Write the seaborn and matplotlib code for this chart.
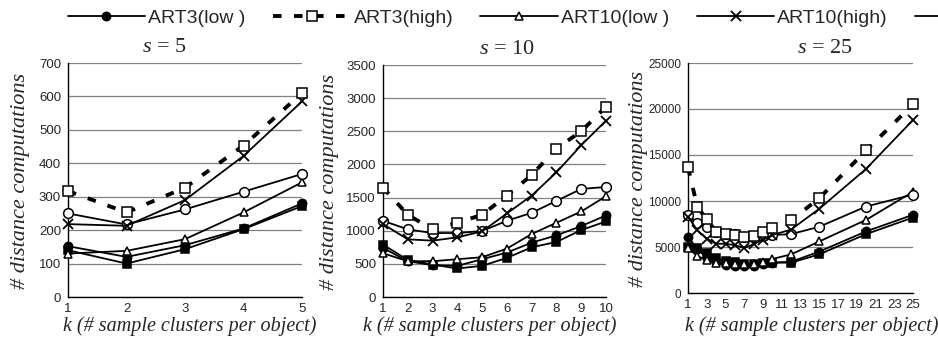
import numpy as np
import pandas as pd
import matplotlib
matplotlib.use("Agg")
import matplotlib.pyplot as plt
import seaborn as sns

sns.set_style("white")
plt.rcParams['font.family'] = ['Liberation Sans', 'DejaVu Sans']
plt.rcParams['mathtext.fontset'] = 'custom'
plt.rcParams['mathtext.it'] = 'Liberation Serif:italic'
plt.rcParams['mathtext.rm'] = 'Liberation Serif'

# %% data

series = ['ART3(low )', 'ART3(high)', 'ART10(low )', 'ART10(high)', 'ART25(low )', 'ART25(high)']

k_s5 = [1, 2, 3, 4, 5]
s5 = {
    'ART3(low )':  [152, 120, 155, 205, 280],
    'ART3(high)':  [317, 253, 327, 453, 610],
    'ART10(low )': [130, 138, 173, 253, 343],
    'ART10(high)': [218, 213, 290, 422, 585],
    'ART25(low )': [140, 100, 143, 203, 272],
    'ART25(high)': [250, 217, 262, 315, 368],
}

k_s10 = [1, 2, 3, 4, 5, 6, 7, 8, 9, 10]
s10 = {
    'ART3(low )':  [740, 540, 480, 470, 570, 670, 820, 930, 1070, 1230],
    'ART3(high)':  [1650, 1240, 1020, 1120, 1240, 1530, 1840, 2240, 2500, 2870],
    'ART10(low )': [660, 540, 540, 570, 600, 730, 950, 1120, 1290, 1520],
    'ART10(high)': [1100, 870, 850, 900, 990, 1260, 1530, 1880, 2290, 2660],
    'ART25(low )': [790, 560, 490, 430, 470, 590, 750, 830, 1010, 1140],
    'ART25(high)': [1150, 1020, 965, 965, 995, 1150, 1270, 1450, 1630, 1660],
}

k_s25 = [1, 2, 3, 4, 5, 6, 7, 8, 9, 10, 12, 15, 20, 25]
s25 = {
    'ART3(low )':  [6100, 4800, 3800, 3400, 3000, 2900, 2900, 2900, 3100, 3300, 3400, 4500, 6700, 8500],
    'ART3(high)':  [13650, 9350, 8000, 6650, 6400, 6300, 6100, 6200, 6650, 7050, 7900, 10300, 15500, 20500],
    'ART10(low )': [4900, 4000, 3600, 3300, 3300, 3200, 3100, 3200, 3400, 3700, 4200, 5600, 7950, 11000],
    'ART10(high)': [8300, 6800, 5900, 5350, 5350, 5200, 4900, 5300, 5800, 6300, 6900, 9150, 13500, 18800],
    'ART25(low )': [5000, 4900, 4400, 3800, 3500, 3400, 3200, 3200, 3300, 3300, 3300, 4200, 6400, 8200],
    'ART25(high)': [8500, 7600, 7200, 6600, 6400, 6400, 6100, 6100, 6200, 6300, 6400, 7200, 9400, 10700],
}

panels = [
    ('5', k_s5, s5, 700, 100, list(range(1, 6))),
    ('10', k_s10, s10, 3500, 500, list(range(1, 11))),
    ('25', k_s25, s25, 25000, 5000, list(range(1, 26, 2))),
]

# %% styles
styles = {
    'ART3(low )':  dict(marker='o', mfc='black', ms=6, ls='-', lw=1.3),
    'ART3(high)':  dict(marker='s', mfc='white', ms=7, ls=(0, (2.2, 3.2)), lw=2.8),
    'ART10(low )': dict(marker='^', mfc='white', ms=6, ls='-', lw=1.3),
    'ART10(high)': dict(marker='x', mfc='white', ms=7, ls='-', lw=1.3, mew=1.3),
    'ART25(low )': dict(marker='s', mfc='black', ms=6, ls='-', lw=1.3),
    'ART25(high)': dict(marker='o', mfc='white', ms=7, ls='-', lw=1.3),
}

axes_pos = [
    [68 / 938, 46 / 343, 234 / 938, 234 / 343],
    [383 / 938, 46 / 343, 223 / 938, 232 / 343],
    [688 / 938, 50 / 343, 225 / 938, 230 / 343],
]
title_x = [0.41, 0.556, 0.61]
ylabel_x = [-0.205, -0.238, -0.222]
ytick_size = [9.5, 9.5, 8.5]
xlabel_xy = [(0.52, -0.124), (0.48, -0.125), (0.55, -0.143)]

fig = plt.figure(figsize=(9.38, 3.43), dpi=100)

for i, (s, ks, vals, ymax, ystep, xticks) in enumerate(panels):
    ax = fig.add_axes(axes_pos[i])
    df = pd.DataFrame(vals, index=ks).reset_index().melt(id_vars='index', var_name='series', value_name='value')
    # draw order: put the dashed series on top like the original
    for name in ['ART25(low )', 'ART3(low )', 'ART10(low )', 'ART25(high)', 'ART10(high)', 'ART3(high)']:
        d = df[df['series'] == name]
        st = styles[name]
        sns.lineplot(x=d['index'], y=d['value'], ax=ax, color='black', label=name, legend=False,
                     marker=st['marker'], markerfacecolor=st['mfc'], markeredgecolor='black',
                     markersize=st['ms'], linestyle=st['ls'], linewidth=st['lw'],
                     markeredgewidth=st.get('mew', 1.1), clip_on=False, zorder=3)
    ax.set_xlim(ks[0], ks[-1])
    ax.set_ylim(0, ymax)
    ax.set_yticks(np.arange(0, ymax + 1, ystep))
    ax.set_xticks(xticks)
    ax.grid(axis='y', color='#808080', linewidth=0.9)
    ax.grid(axis='x', visible=False)
    for side in ['top', 'right']:
        ax.spines[side].set_visible(False)
    for side in ['left', 'bottom']:
        ax.spines[side].set_color('black')
        ax.spines[side].set_linewidth(1.0)
    ax.tick_params(axis='both', direction='out', length=3, width=1, color='black',
                   labelsize=9.5, pad=2)
    ax.tick_params(axis='y', labelsize=ytick_size[i])
    ax.tick_params(axis='x', pad=1)
    ax.text(title_x[i], 1.065, r'$s$ = ' + s, transform=ax.transAxes, ha='center', va='center',
            fontsize=16, family='Liberation Serif')
    ax.set_ylabel('# distance computations', family='Liberation Serif', style='italic', fontsize=16)
    ax.yaxis.set_label_coords(ylabel_x[i], 0.497)
    ax.yaxis.label.set_va('center')
    ax.set_xlabel('k (# sample clusters per object)', family='Liberation Serif', style='italic', fontsize=14.5)
    ax.xaxis.set_label_coords(*xlabel_xy[i])
    ax.xaxis.label.set_va('center')
    if i == 0:
        first_ax = ax

handles, labels = first_ax.get_legend_handles_labels()
order = [labels.index(n) for n in series]
fig.legend([handles[j] for j in order], series, loc='upper left', bbox_to_anchor=(50 / 938, 1.025),
           ncol=6, frameon=False, fontsize=14, handlelength=4.0, columnspacing=1.4, handletextpad=0.15)

plt.savefig("out.png", dpi=100)
